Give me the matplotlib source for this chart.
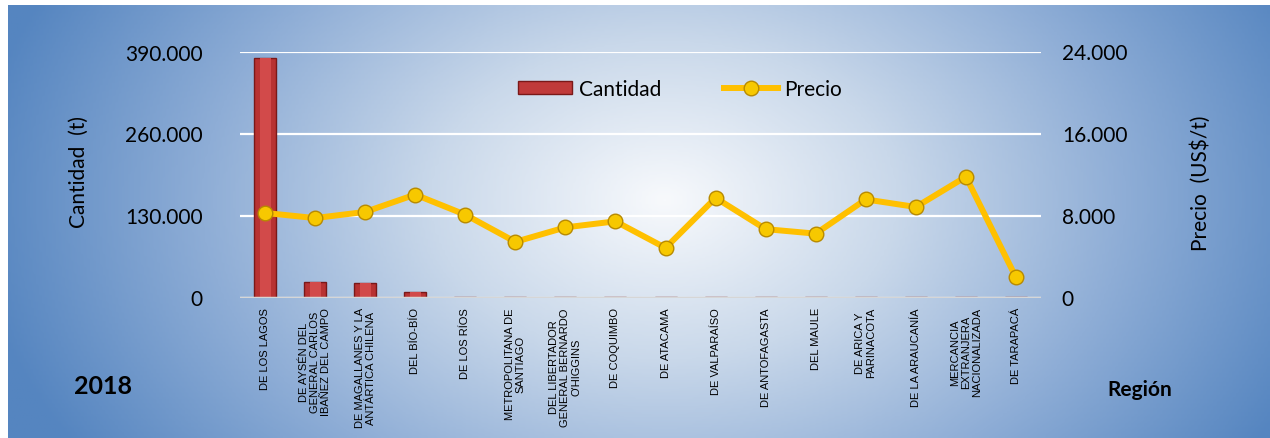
import matplotlib.pyplot as plt
import numpy as np
from matplotlib.colors import LinearSegmentedColormap
from matplotlib.lines import Line2D
from matplotlib.patches import Patch

# data (2018, by region)
regiones = [
    "DE LOS LAGOS",
    "DE AYSÉN DEL\nGENERAL CARLOS\nIBAÑEZ DEL CAMPO",
    "DE MAGALLANES Y LA\nANTÁRTICA CHILENA",
    "DEL BÍO-BÍO",
    "DE LOS RÍOS",
    "METROPOLITANA DE\nSANTIAGO",
    "DEL LIBERTADOR\nGENERAL BERNARDO\nO'HIGGINS",
    "DE COQUIMBO",
    "DE ATACAMA",
    "DE VALPARAÍSO",
    "DE ANTOFAGASTA",
    "DEL MAULE",
    "DE ARICA Y\nPARINACOTA",
    "DE LA ARAUCANÍA",
    "MERCANCIA\nEXTRANJERA\nNACIONALIZADA",
    "DE TARAPACÁ",
]
cantidad = [379000, 24900, 22700, 9000, 1500, 1500, 600, 500,
            400, 400, 300, 300, 200, 200, 100, 100]
precio = [8250, 7750, 8350, 10040, 8080, 5430, 6840, 7430,
          4840, 9720, 6670, 6230, 9570, 8830, 11780, 1960]

cant_ticks = [0, 130000, 260000, 390000]
precio_ticks = [0, 8000, 16000, 24000]

plt.rcParams['font.family'] = ['Lato', 'DejaVu Sans']


def miles(v, pos=None):
    return f"{v:,.0f}".replace(",", ".")


W, H = 1270, 439
fig = plt.figure(figsize=(W / 100, H / 100), dpi=100)

# gradient background panel
bg = fig.add_axes([8 / W, 0, 1 - 8 / W, 1 - 6 / H])
bg.axis("off")
gx, gy = np.meshgrid(np.linspace(0, 1, 400), np.linspace(0, 1, 200))
r = np.sqrt(((gx - 0.52) / 0.55) ** 2 + ((gy - 0.45) / 1.1) ** 2)
cmap = LinearSegmentedColormap.from_list(
    "bg", ["#f7f9fc", "#c9d8ea", "#8eadd6", "#5585c0"])
bg.imshow(np.clip(r, 0, 1), cmap=cmap, aspect="auto",
          extent=[0, 1, 0, 1], origin="upper")
bg.set_xlim(0, 1)
bg.set_ylim(0, 1)

ax = fig.add_axes([240 / W, 1 - 298.5 / H, 801 / W, 246 / H])
ax.patch.set_alpha(0)
x = np.arange(len(regiones))

ax.bar(x, cantidad, width=0.44, color="#b83232", edgecolor="#7a1818",
       linewidth=1, zorder=3)
ax.bar(x, cantidad, width=0.22, color="#d24a4a", linewidth=0, zorder=3)

ax.set_xlim(-0.5, len(regiones) - 0.5)
ax.set_ylim(0, 390000)
ax.set_yticks(cant_ticks)
ax.yaxis.set_major_formatter(plt.FuncFormatter(miles))
ax.yaxis.grid(True, color="white", linewidth=1.6, zorder=1)
ax.set_axisbelow(True)
ax.axhline(0, color="#d6d6d6", linewidth=2.5, zorder=4)
for s in ax.spines.values():
    s.set_visible(False)
ax.tick_params(axis="y", length=0, pad=27, labelsize=15)
ax.tick_params(axis="x", length=0, pad=7)
ax.set_xticks(x)
ax.set_xticklabels(regiones, rotation=90, va="top", ha="center",
                   multialignment="center", linespacing=1.15, fontsize=8,
                   family=["Liberation Sans Narrow", "Liberation Sans",
                           "DejaVu Sans"])

ax2 = ax.twinx()
ax2.plot(x, precio, color="#ffc000", linewidth=4.3, marker="o",
         markersize=10.5, markerfacecolor="#f7c800",
         markeredgecolor="#b88a00", markeredgewidth=1, zorder=5)
ax2.set_ylim(0, 24000)
ax2.set_yticks(precio_ticks)
ax2.yaxis.set_major_formatter(plt.FuncFormatter(miles))
for s in ax2.spines.values():
    s.set_visible(False)
ax2.tick_params(axis="y", length=0, pad=15, labelsize=15)

fig.text(79 / W, 1 - 172 / H, "Cantidad  (t)", rotation=90,
         ha="center", va="center", fontsize=15)
fig.text(1201 / W, 1 - 183 / H, "Precio  (US$/t)", rotation=90,
         ha="center", va="center", fontsize=15)
fig.text(103 / W, 1 - 387 / H, "2018", ha="center", va="center",
         fontsize=18, fontweight="bold")
fig.text(1140 / W, 1 - 390 / H, "Región", ha="center", va="center",
         fontsize=15, fontweight="bold")

handles = [
    Patch(facecolor="#c03a3a", edgecolor="#7a1818", label="Cantidad"),
    Line2D([], [], color="#ffc000", linewidth=4.3, marker="o",
           markersize=10.5, markerfacecolor="#f7c800",
           markeredgecolor="#b88a00", label="Precio"),
]
fig.legend(handles=handles, loc="center", bbox_to_anchor=(680 / W, 1 - 90 / H),
           ncol=2, frameon=False, fontsize=15, handlelength=2.6,
           handleheight=0.6, columnspacing=3.0, handletextpad=0.3)

fig.savefig("out.png", dpi=100)
